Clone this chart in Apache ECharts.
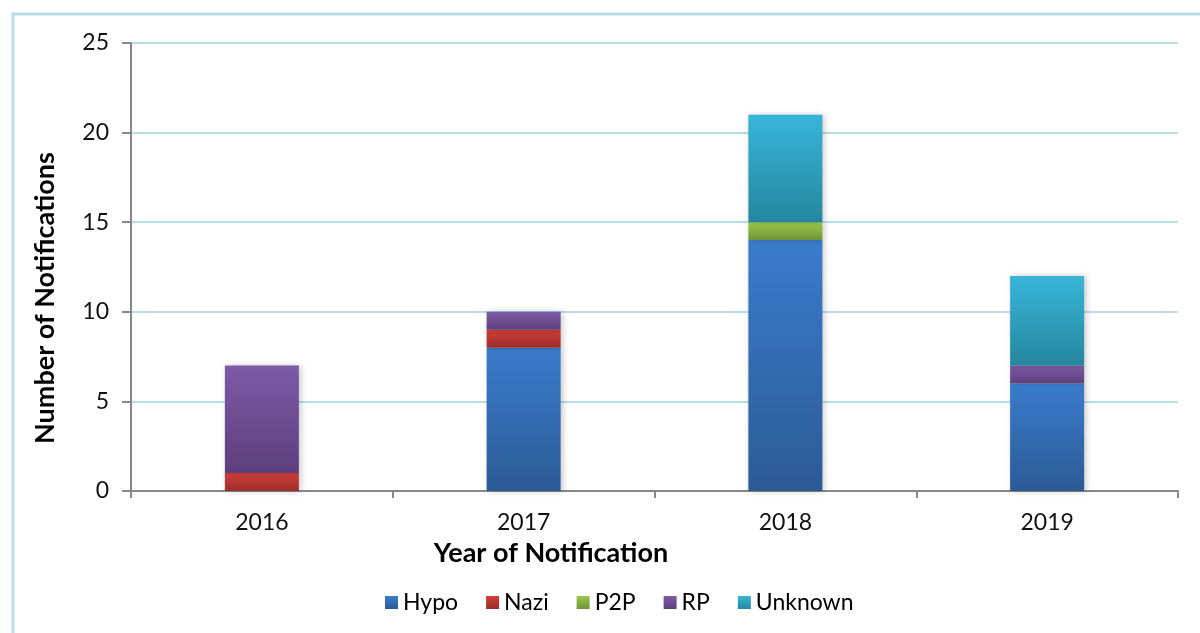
<!DOCTYPE html>
<html>
<head>
<meta charset="utf-8">
<script src="https://cdn.jsdelivr.net/npm/echarts@6/dist/echarts.min.js"></script>
<style>
  html, body { margin: 0; padding: 0; background: #fff; }
  #chart { width: 1200px; height: 633px; }
</style>
</head>
<body>
<div id="chart"></div>
<script>
// data
const years = ['2016', '2017', '2018', '2019']
const hypo = [0, 8, 14, 6]
const nazi = [1, 1, 0, 0]
const p2p = [0, 0, 1, 0]
const rp = [6, 1, 0, 1]
const unknown = [0, 0, 6, 5]
const yTicks = [0, 5, 10, 15, 20, 25]

const FONT = 'Lato, "Open Sans", sans-serif'

function grad(top, bottom) {
  return {
    type: 'linear', x: 0, y: 0, x2: 0, y2: 1,
    colorStops: [{ offset: 0, color: top }, { offset: 1, color: bottom }]
  }
}

function barSeries(name, data, top, bottom) {
  return {
    name: name,
    type: 'bar',
    stack: 'total',
    barWidth: 74,
    data: data,
    itemStyle: {
      color: grad(top, bottom),
      shadowBlur: 6,
      shadowOffsetX: 2,
      shadowColor: 'rgba(0, 0, 0, 0.22)'
    }
  }
}

const myChart = echarts.init(document.getElementById('chart'))
const options = {
  animation: false,
  graphic: [
    {
      type: 'rect',
      shape: { x: 13, y: 14, width: 1400, height: 800 },
      style: { fill: 'none', stroke: '#b7dde8', lineWidth: 3 },
      silent: true
    }
  ],
  legend: {
    left: 380,
    top: 586,
    itemWidth: 13,
    itemHeight: 13,
    itemGap: 28,
    icon: 'rect',
    textStyle: { fontFamily: FONT, fontSize: 23, color: '#000' },
    data: ['Hypo', 'Nazi', 'P2P', 'RP', 'Unknown']
  },
  grid: {
    left: 131,
    top: 43,
    width: 1047,
    height: 448,
    containLabel: false
  },
  xAxis: {
    type: 'category',
    data: years,
    name: 'Year of Notification',
    nameLocation: 'middle',
    nameGap: 49,
    nameTextStyle: {
      fontFamily: FONT, fontSize: 27, fontWeight: 'bold', color: '#000',
      padding: [0, 207, 0, 0]
    },
    axisLine: { lineStyle: { color: '#888', width: 2 } },
    axisTick: { show: true, length: 7, lineStyle: { color: '#888', width: 2 } },
    axisLabel: { fontFamily: FONT, fontSize: 23, color: '#111', margin: 20 }
  },
  yAxis: {
    type: 'value',
    min: yTicks[0],
    max: yTicks[yTicks.length - 1],
    interval: 5,
    name: 'Number of Notifications',
    nameLocation: 'middle',
    nameGap: 72,
    nameTextStyle: {
      fontFamily: FONT, fontSize: 27, fontWeight: 'bold', color: '#000',
      padding: [0, 62, 0, 0]
    },
    axisLine: { show: true, lineStyle: { color: '#888', width: 2 } },
    axisTick: { show: true, length: 9, lineStyle: { color: '#888', width: 2 } },
    axisLabel: { fontFamily: FONT, fontSize: 23, color: '#111', margin: 22 },
    splitLine: { lineStyle: { color: '#b7dde8', width: 2 } }
  },
  series: [
    barSeries('Hypo', hypo, '#3a7ccc', '#2c5a96'),
    barSeries('Nazi', nazi, '#d13f3b', '#9c2d2a'),
    barSeries('P2P', p2p, '#9bc94b', '#6f9336'),
    barSeries('RP', rp, '#7e5aa7', '#5d3f7d'),
    barSeries('Unknown', unknown, '#38b5d9', '#24879e')
  ]
}
myChart.setOption(options)
window.addEventListener('resize', function() {
  myChart.resize()
})
</script>
</body>
</html>
